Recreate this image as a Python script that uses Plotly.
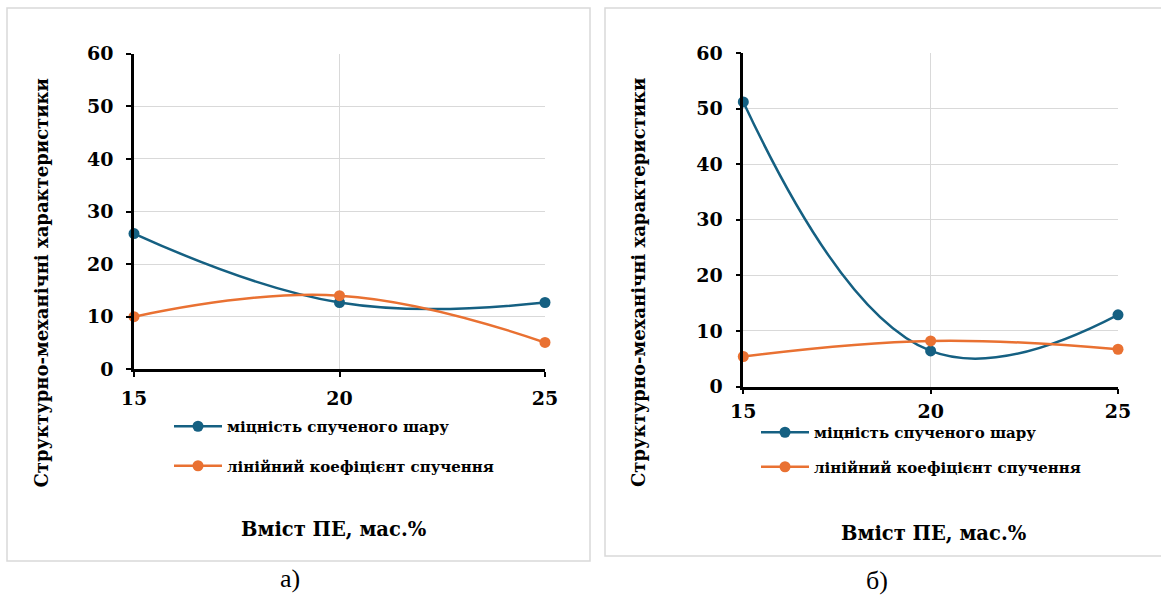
import plotly.graph_objects as go

# ---- data ----
pe_content = [15, 20, 25]  # вміст ПЕ, мас.%

# панель а)
strength_a = [25.8, 12.7, 12.7]     # міцність спученого шару
expansion_a = [10.0, 14.0, 5.1]     # лінійний коефіцієнт спучення

# панель б)
strength_b = [51.2, 6.4, 12.9]
expansion_b = [5.4, 8.2, 6.7]

series_names = ["міцність спученого шару", "лінійний коефіцієнт спучення"]
y_ticks = [0, 10, 20, 30, 40, 50, 60]
x_ticks = [15, 20, 25]

# ---- layout helpers (pixel -> paper) ----
W, H = 1161, 603


def px(x):
    return x / W


def py(y):
    return (H - y) / H


BLUE = "#156082"
ORANGE = "#E97132"
BOLD_FONT = "DejaVu Serif"
GRID = "#d9d9d9"

fig = go.Figure()

panels = [
    dict(xa="x", ya="y", leg="legend", strength=strength_a, expansion=expansion_a),
    dict(xa="x2", ya="y2", leg="legend2", strength=strength_b, expansion=expansion_b),
]

for p in panels:
    for name, vals, color in zip(series_names, [p["strength"], p["expansion"]], [BLUE, ORANGE]):
        fig.add_trace(go.Scatter(
            x=pe_content, y=vals, name=name,
            mode="lines+markers",
            line=dict(color=color, width=2.5, shape="spline", smoothing=1.2),
            marker=dict(color=color, size=11),
            xaxis=p["xa"], yaxis=p["ya"], legend=p["leg"],
            legendgroup=p["leg"] + name,
            cliponaxis=False,
        ))

axis_common = dict(
    showline=True, linecolor="black", linewidth=2.5,
    ticks="outside", ticklen=5, tickwidth=2, tickcolor="black",
    showgrid=True, gridcolor=GRID, gridwidth=1,
    zeroline=False,
    tickfont=dict(family=BOLD_FONT, size=19, color="black", weight="bold"),
)

fig.update_layout(
    width=W, height=H, autosize=False,
    margin=dict(l=0, r=0, t=0, b=0, pad=0, autoexpand=False),
    paper_bgcolor="white", plot_bgcolor="white",
    xaxis=dict(axis_common, domain=[px(134), px(545)], range=[15, 25],
               tickvals=x_ticks, anchor="y", ticklabelstandoff=5),
    yaxis=dict(axis_common, domain=[py(369.3), py(53.7)], range=[0, 60],
               tickvals=y_ticks, anchor="x", ticklabelstandoff=9),
    xaxis2=dict(axis_common, domain=[px(743.3), px(1118)], range=[15, 25],
                tickvals=x_ticks, anchor="y2", ticklabelstandoff=1),
    yaxis2=dict(axis_common, domain=[py(386.5), py(53)], range=[0, 60],
                tickvals=y_ticks, anchor="x2", ticklabelstandoff=9),
    legend=dict(x=px(169), y=py(410), xanchor="left", yanchor="top",
                bgcolor="rgba(0,0,0,0)", itemwidth=48, tracegroupgap=17,
                font=dict(family=BOLD_FONT, size=15, color="black", weight="bold")),
    legend2=dict(x=px(756), y=py(416), xanchor="left", yanchor="top",
                 bgcolor="rgba(0,0,0,0)", itemwidth=48, tracegroupgap=12,
                 font=dict(family=BOLD_FONT, size=15, color="black", weight="bold")),
    showlegend=True,
)

# panel frames
fig.add_shape(type="rect", xref="paper", yref="paper",
              x0=px(7), x1=px(590), y0=py(561), y1=py(8),
              line=dict(color=GRID, width=1.5), layer="below")
fig.add_shape(type="rect", xref="paper", yref="paper",
              x0=px(605), x1=px(1170), y0=py(556), y1=py(8),
              line=dict(color=GRID, width=1.5), layer="below")

title_font = dict(family=BOLD_FONT, size=19.5, color="black", weight="bold")
ytitle_font = dict(family=BOLD_FONT, size=18, color="black", weight="bold")
ytitle = "Структурно-механічні характеристики"
xtitle = "Вміст ПЕ, мас.%"

annotations = [
    dict(text=ytitle, x=px(41), y=py(283.5), textangle=-90, font=ytitle_font),
    dict(text=ytitle, x=px(638), y=py(283), textangle=-90, font=ytitle_font),
    dict(text=xtitle, x=px(334), y=py(529), font=title_font),
    dict(text=xtitle, x=px(934.5), y=py(533), font=title_font),
    dict(text="а)", x=px(290), y=py(578),
         font=dict(family="Liberation Serif", size=26, color="black")),
    dict(text="б)", x=px(877), y=py(580),
         font=dict(family="Liberation Serif", size=26, color="black")),
]
for a in annotations:
    fig.add_annotation(dict(a, xref="paper", yref="paper", showarrow=False,
                            xanchor="center", yanchor="middle"))

fig.write_html("out.html")
